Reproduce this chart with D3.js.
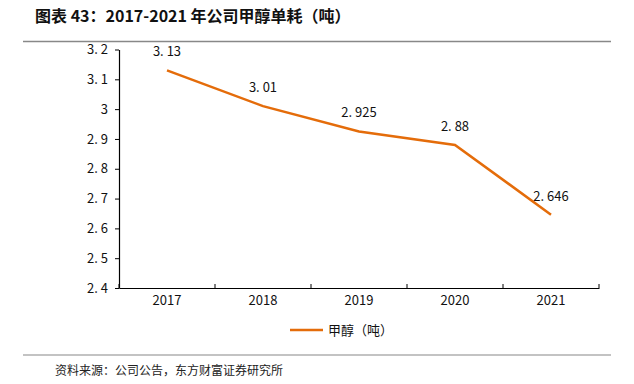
<!DOCTYPE html>
<html><head><meta charset="utf-8">
<script src="https://cdn.jsdelivr.net/npm/d3@7/dist/d3.min.js"></script>
<style>body{margin:0;background:#fff;} svg{display:block;}</style>
</head><body>
<script>
const categories = ["2017","2018","2019","2020","2021"];
const values = [3.13, 3.01, 2.925, 2.88, 2.646];
const labels = ["3. 13","3. 01","2. 925","2. 88","2. 646"];
const yTicks = [2.4,2.5,2.6,2.7,2.8,2.9,3.0,3.1,3.2];
const yTickLabels = ["2. 4","2. 5","2. 6","2. 7","2. 8","2. 9","3","3. 1","3. 2"];
const title = "图表 43：2017-2021 年公司甲醇单耗（吨）";
const legendName = "甲醇（吨）";
const source = "资料来源：公司公告，东方财富证券研究所";

const W=634,H=384;
const svg=d3.select("body").append("svg").attr("width",W).attr("height",H);
const font="'Noto Sans CJK SC','DejaVu Sans',sans-serif";
const m={l:119,r:599,t:49.5,b:288};
const x=d3.scaleBand().domain(categories).range([m.l,m.r]);
const y=d3.scaleLinear().domain([2.4,3.2]).range([m.b,m.t]);

svg.append("text").attr("x",35).attr("y",22).attr("font-family",font).attr("font-weight","bold")
  .attr("font-size",16).attr("fill","#111").text(title);
svg.append("line").attr("x1",23).attr("x2",611).attr("y1",41.5).attr("y2",41.5).attr("stroke","#888").attr("stroke-width",1.5);

const ya=svg.append("g").attr("transform",`translate(${m.l},0)`)
  .call(d3.axisLeft(y).tickValues(yTicks).tickFormat((d,i)=>yTickLabels[i]).tickSize(4).tickSizeOuter(0));
const xa=svg.append("g").attr("transform",`translate(0,${m.b})`)
  .call(d3.axisBottom(x).tickSize(0).tickSizeOuter(0));
[ya,xa].forEach(g=>{g.select(".domain").attr("stroke","#000").attr("stroke-width",1.2);
  g.selectAll("text").attr("font-family",font).attr("font-size",13).attr("fill","#111");});
ya.selectAll(".tick line").attr("stroke","#000");
ya.selectAll("text").attr("dx",-4);
xa.selectAll("text").attr("dy",14);
const bounds=categories.map(c=>x(c)).concat([m.r]);
svg.append("g").selectAll("line").data(bounds).join("line")
  .attr("x1",d=>d).attr("x2",d=>d).attr("y1",m.b).attr("y2",m.b-4).attr("stroke","#000");

const line=d3.line().x((d,i)=>x(categories[i])+x.bandwidth()/2).y(d=>y(d));
svg.append("path").datum(values).attr("d",line).attr("fill","none").attr("stroke","#E46C0A").attr("stroke-width",2.5);
svg.append("g").selectAll("text").data(values).join("text")
  .attr("x",(d,i)=>x(categories[i])+x.bandwidth()/2).attr("y",d=>y(d)-14)
  .attr("text-anchor","middle").attr("font-family",font).attr("font-size",13).attr("fill","#111")
  .text((d,i)=>labels[i]);

svg.append("line").attr("x1",290).attr("x2",323).attr("y1",330).attr("y2",330).attr("stroke","#E46C0A").attr("stroke-width",2.5);
svg.append("text").attr("x",328).attr("y",335).attr("font-family",font).attr("font-size",13).attr("fill","#111").text(legendName);

svg.append("line").attr("x1",23).attr("x2",611).attr("y1",355).attr("y2",355).attr("stroke","#888").attr("stroke-width",1.2);
svg.append("text").attr("x",55).attr("y",375).attr("font-family",font).attr("font-size",12).attr("fill","#222").text(source);
</script>
</body></html>
